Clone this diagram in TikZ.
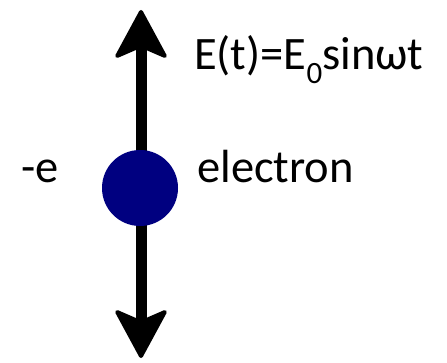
\documentclass[tikz,border=0pt]{standalone}
\usepackage{fontspec}
\setmainfont{Carlito}
\usetikzlibrary{arrows.meta}
\definecolor{electronblue}{RGB}{0,0,128}
\tikzset{
  lbl/.style={anchor=base west,inner sep=0pt,font=\fontsize{46.5}{52}\selectfont},
  fieldarrow/.style={line width=11pt,
    {Stealth[length=52pt,width=56pt,inset=12pt,line width=4pt,round]}-{Stealth[length=52pt,width=56pt,inset=12pt,line width=4pt,round]}},
  particle/.style={circle,fill=electronblue,minimum size=76pt,inner sep=0pt}
}
\begin{document}
\begin{tikzpicture}[x=1pt,y=-1pt]
\useasboundingbox (0,0) rectangle (447,363);
\coordinate (top) at (141,10);
\coordinate (bot) at (141,358);
\draw[fieldarrow] (top) -- (bot);
\node[particle] (el) at (140,188) {};
\node[lbl] (field) at (194,70) {E(t)=E\raisebox{-0.3em}{\fontsize{31}{34}\selectfont 0}sinωt};
\node[lbl] (name) at (197,183) {electron};
\node[lbl] (charge) at (21,183) {-e};
\end{tikzpicture}
\end{document}
